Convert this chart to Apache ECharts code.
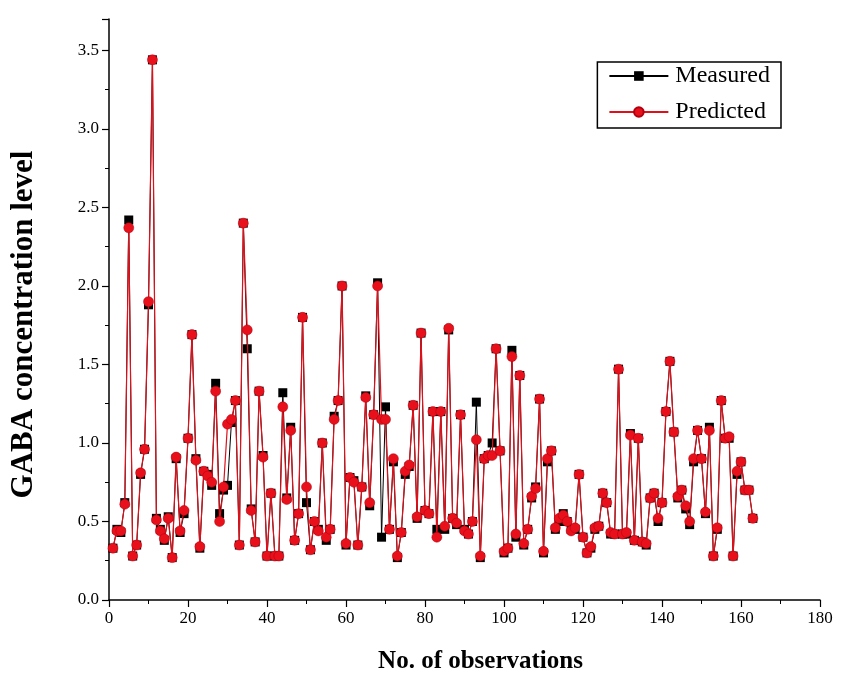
<!DOCTYPE html>
<html>
<head>
<meta charset="utf-8">
<script src="https://cdn.jsdelivr.net/npm/echarts@6/dist/echarts.min.js"></script>
<style>
  html, body { margin: 0; padding: 0; background: #fff; }
  #chart { width: 841px; height: 686px; }
</style>
</head>
<body>
<div id="chart"></div>
<script>
// observation numbers 1..163
const observations = [];
for (let i = 1; i <= 163; i++) observations.push(i);

// GABA concentration
const measured = [
  0.33, 0.45, 0.43, 0.62, 2.42, 0.28, 0.35, 0.80, 0.96, 1.88,
  3.44, 0.52, 0.45, 0.38, 0.53, 0.27, 0.90, 0.43, 0.55, 1.03,
  1.69, 0.90, 0.33, 0.82, 0.80, 0.73, 1.38, 0.55, 0.70, 0.73,
  1.13, 1.27, 0.35, 2.40, 1.60, 0.58, 0.37, 1.33, 0.92, 0.28,
  0.68, 0.28, 0.28, 1.32, 0.65, 1.10, 0.38, 0.55, 1.80, 0.62,
  0.32, 0.50, 0.45, 1.00, 0.38, 0.45, 1.17, 1.27, 2.00, 0.35,
  0.78, 0.76, 0.35, 0.72, 1.30, 0.60, 1.18, 2.02, 0.40, 1.23,
  0.45, 0.88, 0.27, 0.43, 0.80, 0.85, 1.24, 0.52, 1.70, 0.57,
  0.55, 1.20, 0.45, 1.20, 0.45, 1.72, 0.52, 0.48, 1.18, 0.45,
  0.42, 0.50, 1.26, 0.27, 0.90, 0.92, 1.00, 1.60, 0.95, 0.30,
  0.33, 1.59, 0.40, 1.43, 0.35, 0.45, 0.65, 0.72, 1.28, 0.30,
  0.88, 0.95, 0.45, 0.50, 0.55, 0.50, 0.45, 0.45, 0.80, 0.40,
  0.30, 0.33, 0.45, 0.47, 0.68, 0.62, 0.42, 0.42, 1.47, 0.42,
  0.42, 1.06, 0.38, 1.03, 0.37, 0.35, 0.65, 0.68, 0.50, 0.62,
  1.20, 1.52, 1.07, 0.65, 0.70, 0.58, 0.48, 0.88, 1.08, 0.90,
  0.55, 1.10, 0.28, 0.45, 1.27, 1.03, 1.03, 0.28, 0.80, 0.88,
  0.70, 0.70, 0.52
];
const predicted = [
  0.33, 0.44, 0.44, 0.61, 2.37, 0.28, 0.35, 0.81, 0.96, 1.90,
  3.44, 0.51, 0.44, 0.39, 0.52, 0.27, 0.91, 0.44, 0.57, 1.03,
  1.69, 0.89, 0.34, 0.82, 0.79, 0.75, 1.33, 0.50, 0.72, 1.12,
  1.15, 1.27, 0.35, 2.40, 1.72, 0.57, 0.37, 1.33, 0.91, 0.28,
  0.68, 0.28, 0.28, 1.23, 0.64, 1.08, 0.38, 0.55, 1.80, 0.72,
  0.32, 0.50, 0.44, 1.00, 0.40, 0.45, 1.15, 1.27, 2.00, 0.36,
  0.78, 0.75, 0.35, 0.72, 1.29, 0.62, 1.18, 2.00, 1.15, 1.15,
  0.45, 0.90, 0.28, 0.43, 0.82, 0.86, 1.24, 0.53, 1.70, 0.57,
  0.55, 1.20, 0.40, 1.20, 0.47, 1.73, 0.52, 0.49, 1.18, 0.44,
  0.42, 0.50, 1.02, 0.28, 0.90, 0.92, 0.92, 1.60, 0.95, 0.31,
  0.33, 1.55, 0.42, 1.43, 0.36, 0.45, 0.66, 0.71, 1.28, 0.31,
  0.90, 0.95, 0.46, 0.52, 0.54, 0.50, 0.44, 0.46, 0.80, 0.40,
  0.30, 0.34, 0.46, 0.47, 0.68, 0.62, 0.43, 0.42, 1.47, 0.42,
  0.43, 1.05, 0.38, 1.03, 0.37, 0.36, 0.65, 0.68, 0.52, 0.62,
  1.20, 1.52, 1.07, 0.66, 0.70, 0.60, 0.50, 0.90, 1.08, 0.90,
  0.56, 1.08, 0.28, 0.46, 1.27, 1.03, 1.04, 0.28, 0.82, 0.88,
  0.70, 0.70, 0.52
];

const xTicks = [0, 20, 40, 60, 80, 100, 120, 140, 160, 180];
const yTicks = [0.0, 0.5, 1.0, 1.5, 2.0, 2.5, 3.0, 3.5];

const serif = '"Liberation Serif", "DejaVu Serif", serif';

const chart = echarts.init(document.getElementById('chart'));
chart.setOption({
  animation: false,
  backgroundColor: '#fff',
  grid: { left: 108, right: 21, top: 19, bottom: 86 },
  legend: {
    orient: 'vertical',
    right: 60,
    top: 62,
    itemWidth: 59,
    itemHeight: 12,
    itemGap: 12,
    padding: [2, 11, 4, 11],
    borderColor: '#000',
    borderWidth: 1.5,
    borderRadius: 0,
    textStyle: { fontFamily: serif, fontSize: 24, color: '#000', padding: [0, 0, 0, 2] },
    data: ['Measured', 'Predicted']
  },
  xAxis: {
    type: 'value',
    min: xTicks[0],
    max: xTicks[xTicks.length - 1],
    interval: 20,
    axisLine: { lineStyle: { color: '#000', width: 1.5 } },
    axisTick: { inside: false, length: 7, lineStyle: { color: '#000', width: 1.2 } },
    minorTick: { show: true, splitNumber: 2, length: 4, lineStyle: { color: '#000' } },
    splitLine: { show: false },
    axisLabel: { color: '#000', fontFamily: serif, fontSize: 17, margin: 10 },
    name: 'No. of observations',
    nameLocation: 'middle',
    nameGap: 49,
    nameTextStyle: {
      fontFamily: serif, fontSize: 25, fontWeight: 'bold', color: '#000',
      padding: [0, 0, 0, 32]
    }
  },
  yAxis: {
    type: 'value',
    min: yTicks[0],
    max: 3.7,
    interval: 0.5,
    axisLine: { show: true, lineStyle: { color: '#000', width: 1.5 } },
    axisTick: { show: true, inside: false, length: 7, lineStyle: { color: '#000', width: 1.2 } },
    minorTick: { show: true, splitNumber: 2, length: 4, lineStyle: { color: '#000' } },
    splitLine: { show: false },
    axisLabel: {
      color: '#000', fontFamily: serif, fontSize: 17, margin: 10,
      showMaxLabel: false,
      formatter: v => (yTicks.indexOf(v) >= 0 ? v.toFixed(1) : '')
    },
    name: 'GABA concentration level',
    nameLocation: 'middle',
    nameGap: 70,
    nameTextStyle: {
      fontFamily: serif, fontSize: 31, fontWeight: 'bold', color: '#000',
      padding: [0, 30, 0, 0]
    }
  },
  series: [
    {
      name: 'Measured',
      type: 'line',
      data: observations.map((o, i) => [o, measured[i]]),
      symbol: 'rect',
      symbolSize: 9,
      lineStyle: { color: '#000', width: 1 },
      itemStyle: { color: '#000' },
      z: 2
    },
    {
      name: 'Predicted',
      type: 'line',
      data: observations.map((o, i) => [o, predicted[i]]),
      symbol: 'circle',
      symbolSize: 10,
      lineStyle: { color: '#e0101a', width: 1.2 },
      itemStyle: { color: '#e8101a', borderColor: '#b00010', borderWidth: 0.5 },
      z: 3
    }
  ]
});
</script>
</body>
</html>
